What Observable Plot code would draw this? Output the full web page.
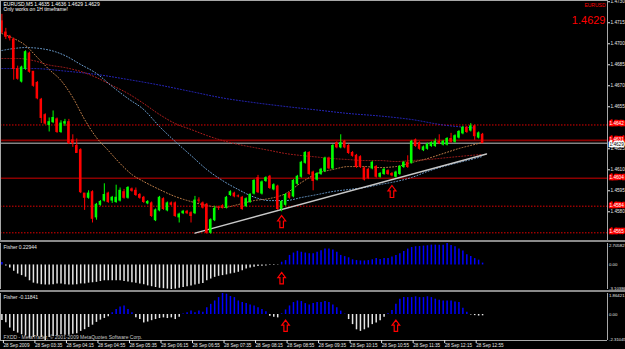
<!DOCTYPE html>
<html><head><meta charset="utf-8">
<script src="https://cdn.jsdelivr.net/npm/d3@7"></script>
<script src="https://cdn.jsdelivr.net/npm/@observablehq/plot@0.6"></script>
<style>
html,body{margin:0;padding:0;background:#000;}
#chart{position:relative;width:625px;height:349px;background:#8a8a8a;overflow:hidden;}
#chart svg{position:absolute;left:0;display:block;}
</style></head><body><div id="chart"></div>
<script>
// ---------- data ----------
const symbol = "EURUSD", timeframe = "M5";
const open = [
1.4716,1.4708,1.4705,1.4703,1.4682,1.4673,1.4682,1.4693,1.4680,1.4672,
1.4660,1.4649,1.4642,1.4644,1.4646,1.4637,1.4643,1.4644,1.4631,1.4627,
1.4624,1.4593,1.4590,1.4594,1.4576,1.4585,1.4588,1.4593,1.4588,1.4587,
1.4588,1.4594,1.4590,1.4596,1.4595,1.4592,1.4590,1.4586,1.4586,1.4574,
1.4581,1.4589,1.4581,1.4586,1.4586,1.4576,1.4579,1.4580,1.4579,1.4579,
1.4588,1.4586,1.4585,1.4565,1.4574,1.4583,1.4584,1.4583,1.4592,1.4593,
1.4591,1.4590,1.4584,1.4587,1.4593,1.4604,1.4593,1.4602,1.4605,1.4596,
1.4598,1.4582,1.4585,1.4593,1.4591,1.4600,1.4605,1.4615,1.4622,1.4608,
1.4603,1.4607,1.4609,1.4618,1.4611,1.4629,1.4626,1.4630,1.4627,1.4622,
1.4620,1.4619,1.4611,1.4610,1.4611,1.4612,1.4605,1.4607,1.4609,1.4607,
1.4605,1.4607,1.4612,1.4615,1.4615,1.4631,1.4629,1.4624,1.4625,1.4627,
1.4627,1.4630,1.4628,1.4628,1.4632,1.4630,1.4633,1.4636,1.4640,1.4638,
1.4641,1.4633,1.4635];
const high = [
1.4721,1.4711,1.4706,1.4704,1.4684,1.4684,1.4695,1.4694,1.4680,1.4673,
1.4661,1.4650,1.4647,1.4652,1.4647,1.4645,1.4646,1.4646,1.4635,1.4632,
1.4625,1.4593,1.4595,1.4595,1.4586,1.4588,1.4600,1.4594,1.4591,1.4599,
1.4597,1.4596,1.4598,1.4597,1.4597,1.4593,1.4591,1.4588,1.4587,1.4582,
1.4591,1.4590,1.4587,1.4587,1.4587,1.4579,1.4581,1.4581,1.4580,1.4591,
1.4590,1.4587,1.4586,1.4575,1.4584,1.4584,1.4585,1.4591,1.4595,1.4594,
1.4592,1.4591,1.4590,1.4593,1.4603,1.4606,1.4602,1.4605,1.4606,1.4600,
1.4599,1.4588,1.4593,1.4594,1.4603,1.4606,1.4616,1.4623,1.4623,1.4609,
1.4608,1.4611,1.4619,1.4619,1.4628,1.4630,1.4635,1.4631,1.4628,1.4623,
1.4621,1.4620,1.4612,1.4611,1.4616,1.4613,1.4608,1.4611,1.4610,1.4608,
1.4609,1.4613,1.4616,1.4620,1.4631,1.4632,1.4630,1.4627,1.4629,1.4630,
1.4632,1.4635,1.4631,1.4633,1.4636,1.4635,1.4638,1.4641,1.4641,1.4643,
1.4642,1.4637,1.4636];
const low = [
1.4707,1.4703,1.4702,1.4674,1.4674,1.4672,1.4681,1.4679,1.4669,1.4660,
1.4643,1.4642,1.4637,1.4643,1.4636,1.4636,1.4641,1.4628,1.4626,1.4622,
1.4593,1.4581,1.4589,1.4572,1.4574,1.4584,1.4587,1.4586,1.4586,1.4586,
1.4587,1.4589,1.4589,1.4594,1.4591,1.4589,1.4586,1.4585,1.4576,1.4573,
1.4580,1.4581,1.4580,1.4584,1.4576,1.4572,1.4578,1.4578,1.4572,1.4578,
1.4586,1.4582,1.4564,1.4564,1.4573,1.4581,1.4582,1.4582,1.4591,1.4590,
1.4590,1.4581,1.4583,1.4586,1.4592,1.4593,1.4592,1.4601,1.4596,1.4595,
1.4581,1.4580,1.4584,1.4589,1.4590,1.4599,1.4604,1.4614,1.4606,1.4595,
1.4602,1.4606,1.4608,1.4610,1.4610,1.4625,1.4625,1.4625,1.4621,1.4619,
1.4611,1.4611,1.4602,1.4603,1.4610,1.4604,1.4604,1.4606,1.4606,1.4605,
1.4604,1.4606,1.4611,1.4611,1.4614,1.4626,1.4624,1.4623,1.4624,1.4626,
1.4626,1.4628,1.4627,1.4627,1.4629,1.4629,1.4632,1.4635,1.4636,1.4637,
1.4631,1.4632,1.4629];
const close = [
1.4708,1.4705,1.4704,1.4682,1.4675,1.4683,1.4694,1.4680,1.4670,1.4661,
1.4647,1.4643,1.4644,1.4647,1.4637,1.4643,1.4644,1.4629,1.4629,1.4622,
1.4594,1.4590,1.4593,1.4575,1.4585,1.4587,1.4592,1.4587,1.4590,1.4590,
1.4595,1.4590,1.4597,1.4595,1.4592,1.4590,1.4587,1.4587,1.4577,1.4581,
1.4590,1.4582,1.4586,1.4585,1.4577,1.4578,1.4580,1.4579,1.4577,1.4588,
1.4588,1.4583,1.4565,1.4574,1.4582,1.4583,1.4583,1.4590,1.4594,1.4591,
1.4591,1.4582,1.4589,1.4592,1.4602,1.4594,1.4601,1.4604,1.4597,1.4599,
1.4582,1.4587,1.4592,1.4590,1.4602,1.4605,1.4615,1.4622,1.4607,1.4602,
1.4607,1.4610,1.4618,1.4611,1.4627,1.4626,1.4629,1.4626,1.4622,1.4620,
1.4612,1.4612,1.4603,1.4604,1.4615,1.4605,1.4607,1.4610,1.4607,1.4606,
1.4608,1.4612,1.4615,1.4612,1.4630,1.4627,1.4625,1.4626,1.4628,1.4629,
1.4630,1.4629,1.4630,1.4632,1.4630,1.4634,1.4637,1.4640,1.4637,1.4641,
1.4634,1.4636,1.4629];

// time labels, one every 8 bars
const timeLabels = ["28 Sep 2009","28 Sep 03:35","28 Sep 04:15","28 Sep 04:55","28 Sep 05:35","28 Sep 06:15","28 Sep 06:55","28 Sep 07:35","28 Sep 08:15","28 Sep 08:55","28 Sep 09:35","28 Sep 10:15","28 Sep 10:55","28 Sep 11:35","28 Sep 12:15","28 Sep 12:55"];
const timeLabelStep = 8;
const priceTicks = [1.4730,1.4715,1.4700,1.4685,1.4670,1.4655,1.4625,1.4610,1.4595,1.4580];

// moving averages (bar index, price)
const maNavyIdx = [0,8,16,24,32,40,48,56,64,72,80,88,96,104,112,120];
const maNavy = [1.46823,1.46823,1.46805,1.46781,1.46745,1.46705,1.46659,1.46613,1.46580,1.46552,1.46527,1.46502,1.46484,1.46459,1.46420,1.46398];
const maSteelIdx = [0,3,6,12,16,20,24,28,32,36,40,44,48,52,56,60,64,68,72,76,80,84,88,92,96,100,104,108,112,116,120,122];
const maSteel = [1.46952,1.46966,1.46973,1.46955,1.46916,1.46852,1.46788,1.46695,1.46609,1.46530,1.46409,1.46302,1.46202,1.46102,1.46023,1.45959,1.45905,1.45880,1.45880,1.45902,1.45923,1.45945,1.45959,1.45973,1.45995,1.46016,1.46045,1.46088,1.46123,1.46152,1.46180,1.46195];
const maOrangeIdx = [0,3,6,9,12,15,18,21,24,27,30,33,36,40,44,48,52,56,60,64,68,72,76,80,84,88,92,96,100,104,108,112,116,120,122];
const maOrange = [1.47073,1.47038,1.46988,1.46902,1.46816,1.46738,1.46616,1.46459,1.46330,1.46238,1.46145,1.46066,1.46016,1.45959,1.45909,1.45873,1.45845,1.45830,1.45852,1.45880,1.45895,1.45930,1.46009,1.46073,1.46102,1.46123,1.46123,1.46116,1.46123,1.46152,1.46180,1.46216,1.46252,1.46281,1.46295];
const maDarkRedIdx = [0,4,8,12,16,20,24,28,32,36,40,44,48,52,56,60,64,68,72,76,80,84,88,92,96,100,104,108,112,116,120,122];
const maDarkRed = [1.46895,1.46895,1.46880,1.46848,1.46830,1.46802,1.46759,1.46702,1.46645,1.46573,1.46495,1.46430,1.46388,1.46345,1.46309,1.46281,1.46259,1.46238,1.46216,1.46202,1.46191,1.46180,1.46173,1.46166,1.46166,1.46159,1.46166,1.46173,1.46184,1.46195,1.46205,1.46209];

// trend line and horizontal levels
const trendIdx = [49, 123];
const trendPrice = [1.45648, 1.46213];
const levelsDotted = [1.4642, 1.4584, 1.4565];
const levelsSolid = [1.4631, 1.4604];
const bidPrice = 1.4629;

// signal arrows
const arrowMainIdx = [71, 99];
const arrowMainPrice = [1.4573, 1.45945];
const arrowF1Idx = [71];
const arrowF1Val = [-1.67];
const arrowF2Idx = [72, 100];
const arrowF2Val = [-1.0, -1.0];

// Fisher indicators
const fisher1 = [0.30,-0.15,-0.38,-0.80,-1.15,-1.35,-1.55,-2.00,-2.30,-2.40,
-2.50,-2.55,-2.55,-2.50,-2.40,-2.40,-2.50,-2.55,-2.55,-2.50,
-2.40,-2.40,-2.30,-2.25,-2.20,-2.10,-2.00,-2.00,-2.00,-2.00,
-2.00,-2.10,-2.15,-2.25,-2.30,-2.40,-2.50,-2.65,-2.75,-2.85,
-2.95,-3.00,-3.05,-3.10386,-3.05,-2.95,-2.85,-2.75,-2.65,-2.55,
-2.45,-2.35,-2.00,-1.78,-1.57,-1.44,-1.35,-1.26,-1.14,-1.05,
-0.93,-0.72,-0.50,-0.38,-0.30,-0.20,-0.17,-0.13,-0.08,-0.08,
-0.04,0.34,0.55,1.20,1.50,1.73,1.60,1.50,1.40,1.40,
1.60,1.80,2.00,2.00,1.90,1.60,1.20,1.05,0.90,0.65,
0.55,0.50,0.50,0.55,0.65,0.80,0.70,0.80,0.80,1.00,
1.20,1.40,1.70,2.00,2.20,2.30,2.33,2.38,2.42,2.50,
2.50,2.50,2.50,2.70582,2.45,2.30,2.00,1.75,1.30,1.05,
0.80,0.60,0.22944];
const fisher2 = [-0.53,-0.74,-1.20,-1.50,-1.65,-1.80,-1.90,-2.10,-2.05,-1.95,
-2.05,-2.31045,-2.05,-1.95,-1.90,-1.80,-1.85,-1.85,-1.75,-1.70,
-1.50,-1.35,-1.15,-0.95,-0.70,-0.50,-0.35,-0.20,0.15,0.45,
0.67,0.75,0.45,0.15,-0.30,-0.45,-0.75,-0.67,-0.55,-0.45,
-0.36,-0.30,-0.36,-0.30,-0.45,-0.24,0.05,0.15,0.30,0.15,
0.30,0.20,0.60,0.90,1.20,1.50,1.86421,1.80,1.60,1.50,
1.20,1.06,0.97,0.85,0.76,0.60,0.45,0.24,-0.15,-0.24,
-0.30,0.06,0.40,0.76,1.06,1.20,1.15,0.97,0.85,0.97,
1.06,1.06,1.15,1.06,0.85,0.60,0.30,0.03,-0.45,-0.90,
-1.36,-1.50,-1.36,-1.20,-0.90,-0.76,-0.55,-0.24,0.06,0.36,
0.90,1.36,1.50,1.50,1.50,1.57,1.50,1.50,1.57,1.50,
1.36,1.27,1.20,1.20,1.20,1.10,1.06,0.55,0.20,-0.05,
-0.10,-0.14,-0.11841];
const fisher1Range = [-3.10386, 2.70582];
const fisher2Range = [-2.31045, 1.86421];
const copyright = "FXDD - MetaTrader, \u00a9 2001-2009 MetaQuotes Software Corp.";
const note = "Only works on 1H timeframe!";

// ---------- layout / style ----------
const W = 625, axisW = 18, barPx = 3.94, firstBarPx = 1.4;
const xDomain = [-firstBarPx / barPx, (W - axisW - firstBarPx) / barPx];
const BULL = "#00ff00", BEAR = "#ff0000", FRAME = "#a8a8a8", TXT = "#e8e8e8";
const FONT = "'Liberation Sans', Arial, sans-serif";
const AX = 4.7; // right-axis font size
const common = {
  width: W, marginLeft: 0, marginRight: axisW,
  x: {domain: xDomain, axis: null},
  color: {type: "identity"},
  style: {background: "#000", color: TXT, fontFamily: FONT, fontSize: "5px"}
};
const arrowSym = {
  draw(ctx, size) {
    const r = Math.sqrt(size / Math.PI);
    ctx.moveTo(0, -1.5 * r);
    ctx.lineTo(r, -0.15 * r);
    ctx.lineTo(0.45 * r, -0.15 * r);
    ctx.lineTo(0.45 * r, 1.5 * r);
    ctx.lineTo(-0.45 * r, 1.5 * r);
    ctx.lineTo(-0.45 * r, -0.15 * r);
    ctx.lineTo(-r, -0.15 * r);
    ctx.closePath();
  }
};

const n = close.length;
const bars = open.map((o, i) => ({i, o, h: high[i], l: low[i], c: close[i]}));
const pts = (idx, vals) => idx.map((d, k) => ({i: d, p: vals[k]}));
const maLine = (idx, vals, color) =>
  Plot.line(pts(idx, vals), {x: "i", y: "p", stroke: color, strokeWidth: 1, strokeDasharray: "1,2", curve: "monotone-x"});
const f4 = (v) => v.toFixed(4);
const title = `${symbol},${timeframe} ${f4(open[n-1])} ${f4(high[n-1])} ${f4(low[n-1])} ${f4(close[n-1])}`;

const chart = document.getElementById("chart");
function place(svg, top) { svg.style.top = top + "px"; chart.appendChild(svg); }

// ---------- main price panel ----------
const mainH = 240;
const main = Plot.plot({
  ...common, height: mainH, marginTop: 0, marginBottom: 0,
  y: {domain: [1.45595, 1.47309]},
  marks: [
    Plot.ruleY(levelsDotted, {stroke: "#e00000", strokeDasharray: "1.5,1.5"}),
    Plot.ruleY(levelsSolid, {stroke: "#8b0000", strokeWidth: 1.6}),
    Plot.ruleY([bidPrice], {stroke: "#c4c4c4"}),
    maLine(maNavyIdx, maNavy, "#2a2ad0"),
    maLine(maDarkRedIdx, maDarkRed, "#b41e1e"),
    maLine(maSteelIdx, maSteel, "#6c9ed0"),
    maLine(maOrangeIdx, maOrange, "#c4804a"),
    Plot.line(pts(trendIdx, trendPrice), {x: "i", y: "p", stroke: "#c8c8c8", strokeWidth: 1.4}),
    Plot.ruleX(bars, {x: "i", y1: "l", y2: "h", stroke: d => d.c > d.o ? BULL : BEAR, strokeWidth: 1}),
    Plot.rect(bars, {x1: d => d.i - 0.32, x2: d => d.i + 0.32,
      y1: d => Math.min(d.o, d.c), y2: d => Math.max(d.o, d.c),
      fill: d => d.c > d.o ? BULL : BEAR, insetTop: -0.5, insetBottom: -0.5}),
    Plot.dot(pts(arrowMainIdx, arrowMainPrice), {x: "i", y: "p", symbol: arrowSym, r: 4, stroke: "#ff0000", strokeWidth: 1.2, fill: "none"}),
    Plot.frame({stroke: FRAME}),
    Plot.axisY({ticks: priceTicks, anchor: "right", tickFormat: f4, tickSize: 2, tickPadding: 1, fontSize: AX, color: TXT, label: null}),
    Plot.text([...levelsDotted, ...levelsSolid], {y: d => d, text: f4, frameAnchor: "right", textAnchor: "start", dx: 2, dy: -1,
      fontSize: AX, fill: "#ffffff", stroke: "#ff0000", strokeWidth: 2.4, strokeLinejoin: "miter", paintOrder: "stroke"}),
    Plot.text([bidPrice], {y: d => d, text: f4, frameAnchor: "right", textAnchor: "start", dx: 2, dy: 1.4,
      fontSize: AX, fill: "#000000", stroke: "#ffffff", strokeWidth: 2.4, strokeLinejoin: "miter", paintOrder: "stroke"}),
    Plot.text([`${title}\n${note}`], {frameAnchor: "top-left", dx: 3, dy: 2, lineAnchor: "top", lineHeight: 1.05, fontSize: 5, fill: "#ffffff"}),
    Plot.text([symbol], {frameAnchor: "top-right", dx: -2, dy: 2.5, lineAnchor: "top", textAnchor: "end", fontSize: 5, fill: "#ff0000"}),
    Plot.text([f4(close[n-1])], {frameAnchor: "top-right", dx: -2, dy: 16, lineAnchor: "top", textAnchor: "end", fontSize: 11, fill: "#ff0000"})
  ]
});
place(main, 0);

// ---------- Fisher panels ----------
function fisherPanel(vals, range, arrowIdx, arrowVal, h, mb, extra) {
  const data = vals.map((v, i) => ({i, v}));
  return Plot.plot({
    ...common, height: h, marginTop: 1, marginBottom: mb,
    y: {domain: range, axis: null},
    marks: [
      Plot.ruleX(data, {x: "i", y1: () => 0, y2: "v", stroke: d => d.v >= 0 ? "#0000ff" : "#e6e6e6", strokeWidth: 1.5}),
      Plot.dot(pts(arrowIdx, arrowVal), {x: "i", y: "p", symbol: arrowSym, r: 3.8, stroke: "#ff0000", strokeWidth: 1.2, fill: "none"}),
      Plot.ruleX([xDomain[0], xDomain[1]], {stroke: FRAME}),
      Plot.text([`Fisher ${vals[vals.length - 1].toFixed(5)}`], {frameAnchor: "top-left", dx: 3, dy: 2, lineAnchor: "top", fontSize: 5, fill: TXT}),
      Plot.text([range[1]], {y: d => d, text: d => d.toFixed(5), frameAnchor: "right", textAnchor: "start", dx: 1.5, lineAnchor: "top", fontSize: 4.3, fill: TXT}),
      Plot.text([0], {y: d => d, text: () => "0.00", frameAnchor: "right", textAnchor: "start", dx: 1.5, fontSize: 4.3, fill: TXT}),
      Plot.text([range[0]], {y: d => d, text: d => d.toFixed(5), frameAnchor: "right", textAnchor: "start", dx: 1.5, lineAnchor: "bottom", fontSize: 4.3, fill: TXT}),
      ...extra
    ]
  });
}

place(fisherPanel(fisher1, fisher1Range, arrowF1Idx, arrowF1Val, 48, 1, []), 242);

const timeIdx = timeLabels.map((_, k) => k * timeLabelStep);
const timeMap = new Map(timeIdx.map((d, k) => [d, timeLabels[k]]));
place(fisherPanel(fisher2, fisher2Range, arrowF2Idx, arrowF2Val, 57, 9, [
  Plot.ruleY([fisher2Range[0]], {stroke: FRAME}),
  Plot.text([copyright], {frameAnchor: "bottom-left", dx: 3, dy: -1.5, lineAnchor: "bottom", fontSize: 5, fill: "#c8c8c8"}),
  Plot.axisX({ticks: timeIdx, tickFormat: d => timeMap.get(d), anchor: "bottom", tickSize: 3, tickPadding: 0,
    textAnchor: "start", dx: 1.5, fontSize: 4.6, color: TXT, label: null})
]), 292);
</script></body></html>
